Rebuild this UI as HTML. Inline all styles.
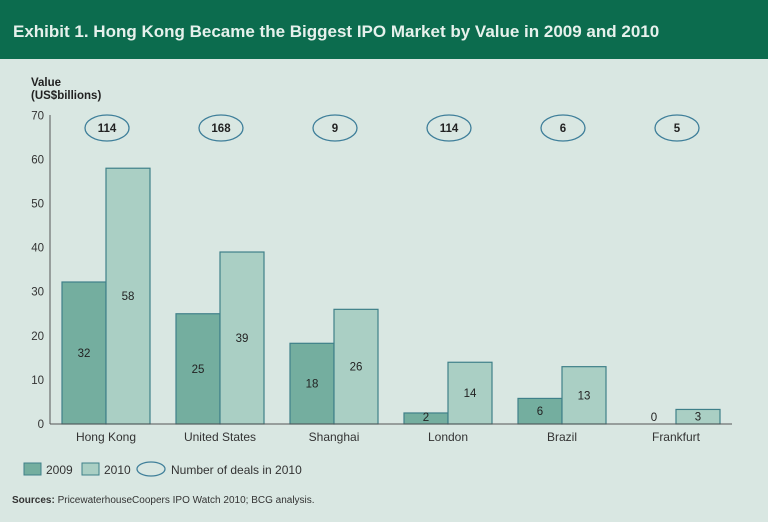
<!DOCTYPE html>
<html><head><meta charset="utf-8"><style>
body{margin:0;width:768px;height:517px;background:#d9e7e2;font-family:"Liberation Sans",sans-serif;overflow:hidden}
</style></head><body>
<svg width="768" height="517" xmlns="http://www.w3.org/2000/svg" font-family="Liberation Sans, sans-serif">
<rect x="0" y="0" width="768" height="517" fill="#d9e7e2"/>
<rect x="0" y="0" width="768" height="59" fill="#0c6c4e"/>
<text x="13" y="37" fill="#e6f1ec" font-size="17" font-weight="bold">Exhibit 1. Hong Kong Became the Biggest IPO Market by Value in 2009 and 2010</text>
<text x="31" y="86" fill="#222" font-size="11.5" font-weight="bold">Value</text>
<text x="31" y="99" fill="#222" font-size="11.5" font-weight="bold">(US$billions)</text>
<g id="ticks"></g><g id="bars"></g>
<line x1="50" y1="115" x2="50" y2="424" stroke="#555" stroke-width="1"/>
<line x1="50" y1="424" x2="732" y2="424" stroke="#555" stroke-width="1"/>
<g>
<rect x="24" y="463" width="17" height="12" fill="#74ae9f" stroke="#3f8089"/>
<text x="46" y="474" font-size="12" fill="#333">2009</text>
<rect x="82" y="463" width="17" height="12" fill="#aacfc4" stroke="#3f8089"/>
<text x="104" y="474" font-size="12" fill="#333">2010</text>
<ellipse cx="151" cy="469" rx="14" ry="7" fill="none" stroke="#3f7f9a" stroke-width="1.3"/>
<text x="171" y="474" font-size="12" fill="#333">Number of deals in 2010</text>
</g>
<text x="12" y="503" font-size="10" fill="#333"><tspan font-weight="bold">Sources:</tspan> PricewaterhouseCoopers IPO Watch 2010; BCG analysis.</text>
</svg>
<script>
const categories=["Hong Kong","United States","Shanghai","London","Brazil","Frankfurt"];
const values2009=[32.2,25,18.3,2.5,5.8,0];
const values2010=[58,39,26,14,13,3.3];
const labels2009=["32","25","18","2","6","0"];
const labels2010=["58","39","26","14","13","3"];
const deals2010=["114","168","9","114","6","5"];
const yTicks=[0,10,20,30,40,50,60,70];
const NS="http://www.w3.org/2000/svg";
const y0=424,pxPer=44.1/10;
function yS(v){return y0-v*pxPer;}
function xS(i){return 62+114*i;}
const bw=44;
function mk(tag,attrs,parent,txt){const e=document.createElementNS(NS,tag);for(const k in attrs)e.setAttribute(k,attrs[k]);if(txt!==undefined)e.textContent=txt;parent.appendChild(e);return e;}
const tg=document.getElementById('ticks');
yTicks.forEach(t=>{const e=mk('text',{x:44,y:yS(t)+4,'text-anchor':'end','font-size':11.5,fill:'#333'},tg,String(t));

});
const bg=document.getElementById('bars');
categories.forEach((c,i)=>{
 const x=xS(i);
 [[values2009,labels2009,'#74ae9f','2009',0],[values2010,labels2010,'#aacfc4','2010',bw]].forEach(([vals,labs,col,yr,off])=>{
  const v=vals[i];
  if(v>0){const r=mk('rect',{x:x+off,y:yS(v),width:bw,height:v*pxPer,fill:col,stroke:'#3f8089','stroke-width':1.2},bg);
  
  }
  const ly=Math.min((yS(v)+y0)/2+4,421);
  const t=mk('text',{x:x+off+bw/2,y:ly,'text-anchor':'middle','font-size':11.5,fill:'#222'},bg,labs[i]);
  
  
 });
 const el=mk('ellipse',{cx:x+bw+1,cy:128,rx:22,ry:13,fill:'none',stroke:'#3f7f9a','stroke-width':1.3},bg);
 
 
 const dt=mk('text',{x:x+bw+1,y:132,'text-anchor':'middle','font-size':11.5,'font-weight':'bold',fill:'#222'},bg,deals2010[i]);
 
 
 const ct=mk('text',{x:x+bw,y:441,'text-anchor':'middle','font-size':12,fill:'#333'},bg,c);
 
 
});
</script>
</body></html>
